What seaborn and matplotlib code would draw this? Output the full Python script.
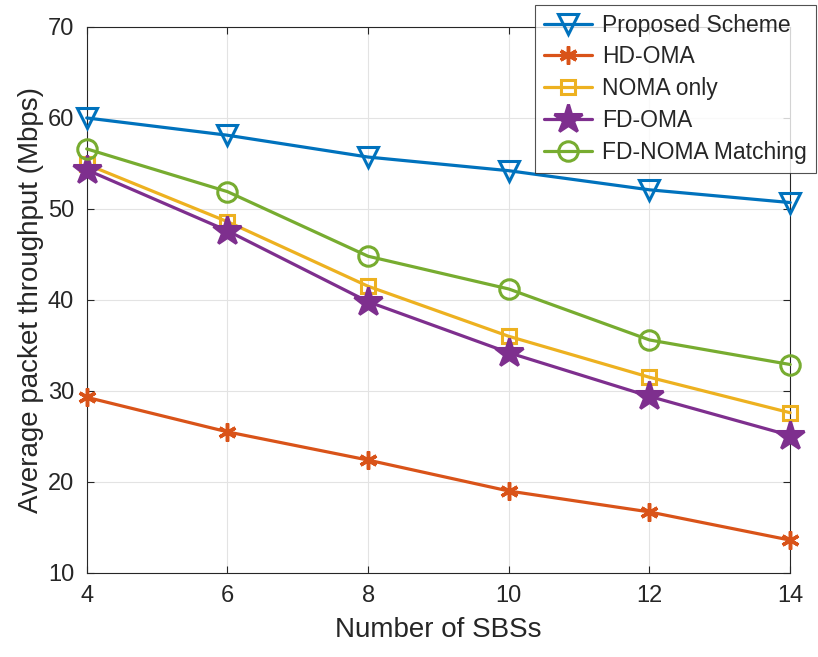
import numpy as np
import pandas as pd
import matplotlib
matplotlib.use("Agg")
import matplotlib.pyplot as plt
import seaborn as sns

sbs = [4, 6, 8, 10, 12, 14]
proposed = [60.0, 58.1, 55.7, 54.2, 52.1, 50.7]
hd_oma = [29.3, 25.5, 22.4, 19.0, 16.7, 13.6]
noma_only = [54.9, 48.6, 41.5, 36.0, 31.5, 27.6]
fd_oma = [54.3, 47.6, 39.8, 34.2, 29.4, 25.1]
fd_noma = [56.6, 51.9, 44.8, 41.2, 35.6, 32.9]

names = ["Proposed Scheme", "HD-OMA", "NOMA only", "FD-OMA", "FD-NOMA Matching"]
series = [proposed, hd_oma, noma_only, fd_oma, fd_noma]
colors = ["#0072BD", "#D95319", "#EDB120", "#7E2F8E", "#77AC30"]
markers = ["v", (6, 2, 0), "s", "*", "o"]
msizes = [15, 13, 10, 21, 14]
filled = [False, True, False, True, False]

df = pd.DataFrame(
    [(x, y, n) for n, ys in zip(names, series) for x, y in zip(sbs, ys)],
    columns=["sbs", "thr", "scheme"],
)

sns.set_style("white")
plt.rcParams["font.family"] = ["Liberation Sans", "DejaVu Sans"]

fig = plt.figure(figsize=(8.18, 6.57), dpi=100)
ax = fig.add_axes([0.106, 0.128, 0.860, 0.831])

for i, n in enumerate(names):
    sub = df[df["scheme"] == n]
    sns.lineplot(
        data=sub, x="sbs", y="thr", ax=ax, color=colors[i], linewidth=2.3,
        marker=markers[i], markersize=msizes[i],
        markerfacecolor=colors[i] if filled[i] else "none",
        markeredgecolor=colors[i], markeredgewidth=2.5 if i == 1 else 2.2,
        label=n, clip_on=False, zorder=3,
    )

ax.set_xlim(4, 14)
ax.set_ylim(10, 70)
ax.set_xticks(sbs)
ax.set_yticks([10, 20, 30, 40, 50, 60, 70])
ax.grid(True, color="#e3e3e3", linewidth=0.8)
for s in ax.spines.values():
    s.set_color("#262626")
    s.set_linewidth(0.8)
ax.tick_params(labelsize=17, colors="#262626", direction="in", length=5,
               top=True, right=True, bottom=True, left=True, pad=9)
ax.set_xlabel("Number of SBSs", fontsize=20, color="#262626", labelpad=7)
ax.set_ylabel("Average packet throughput (Mbps)", fontsize=20, color="#262626", labelpad=3)

leg = ax.legend(loc="upper right", bbox_to_anchor=(0.997, 0.993),
                bbox_transform=fig.transFigure, fontsize=16.5, frameon=True,
                fancybox=False, edgecolor="#262626", handlelength=2.1,
                borderpad=0.4, labelspacing=0.38, handletextpad=0.4,
                borderaxespad=0)
leg.get_frame().set_linewidth(0.8)

fig.savefig("out.png", dpi=100)
